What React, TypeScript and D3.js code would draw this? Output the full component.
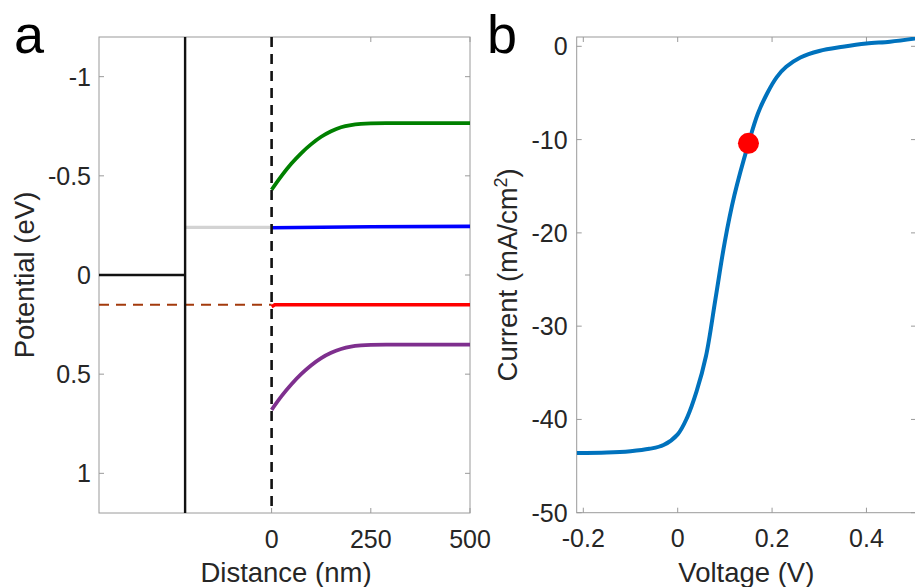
import React from "react";
import * as d3 from "d3";

// ---- Panel a data (Distance nm vs Potential eV) ----
const distanceTicks = [0, 250, 500];
const potentialTicks = [-1, -0.5, 0, 0.5, 1];
const bandDistance = [0, 25, 50, 75, 100, 125, 150, 175, 200, 225, 250, 300, 350, 400, 450, 500];
const greenBand = [-0.43, -0.5, -0.562, -0.615, -0.66, -0.697, -0.725, -0.745, -0.756, -0.762, -0.765, -0.766, -0.766, -0.766, -0.766, -0.766];
const purpleBand = [0.68, 0.611, 0.551, 0.499, 0.455, 0.419, 0.392, 0.373, 0.361, 0.355, 0.352, 0.351, 0.351, 0.351, 0.351, 0.351];
const blueDistance = [0, 250, 500];
const blueLevel = [-0.238, -0.243, -0.245];
const redDistance = [0, 8, 500];
const redLevel = [0.16, 0.15, 0.15];
const metalEdge = -218;
const leftLimit = -435;
const metalLevel = 0;
const grayLevel = -0.24;
const brownLevel = 0.15;

// ---- Panel b data (Voltage V vs Current mA/cm2) ----
const voltageTicks = [-0.2, 0, 0.2, 0.4];
const currentTicks = [0, -10, -20, -30, -40, -50];
const voltage = [-0.214, -0.15, -0.1, -0.06, -0.03, 0, 0.02, 0.04, 0.06, 0.08, 0.1, 0.12, 0.15, 0.17, 0.19, 0.21, 0.23, 0.26, 0.3, 0.35, 0.4, 0.45, 0.505];
const current = [-43.6, -43.55, -43.4, -43.15, -42.75, -41.6, -39.8, -37.0, -33.2, -27.1, -20.9, -16.0, -10.4, -7.2, -5.0, -3.3, -2.2, -1.2, -0.5, -0.05, 0.3, 0.5, 0.85];
const markerPoint = { v: 0.15, j: -10.4 };

const FONT = "'Liberation Sans', Arial, Helvetica, sans-serif";
const AX = "#9a9a9a";
const TXT = "#262626";

export default function App() {
  const W = 915, H = 587;
  // Panel a
  const a = { l: 99, r: 470, t: 37, b: 513 };
  const xa = d3.scaleLinear().domain([leftLimit, 500]).range([a.l, a.r]);
  const ya = d3.scaleLinear().domain([-1.2, 1.2]).range([a.t, a.b]);
  const la = d3.line<[number, number]>().x(d => xa(d[0])).y(d => ya(d[1])).curve(d3.curveCatmullRom.alpha(0.5));
  const laLin = d3.line<[number, number]>().x(d => xa(d[0])).y(d => ya(d[1]));

  // Panel b
  const b = { l: 576.7, r: 916, t: 37, b: 512.7 };
  const xb = d3.scaleLinear().domain([-0.214, 0.505]).range([b.l, b.r]);
  const yb = d3.scaleLinear().domain([-50, 1]).range([b.b, b.t]);
  const lb = d3.line<[number, number]>().x(d => xb(d[0])).y(d => yb(d[1])).curve(d3.curveCatmullRom.alpha(0.5));

  const zip = (xs: number[], ys: number[]) => xs.map((x, i) => [x, ys[i]] as [number, number]);
  const TL = 5;

  return (
    <div style={{ position: "absolute", left: 0, top: 0 }}>
      <svg width={W} height={H} style={{ display: "block", fontFamily: FONT }}>
        <rect x={0} y={0} width={W} height={H} fill="white" />
        <defs>
          <clipPath id="clipA"><rect x={a.l} y={a.t} width={a.r - a.l} height={a.b - a.t} /></clipPath>
          <clipPath id="clipB"><rect x={b.l} y={b.t} width={b.r - b.l} height={b.b - b.t} /></clipPath>
        </defs>
        {/* ---------- Panel a ---------- */}
        <rect x={a.l} y={a.t} width={a.r - a.l} height={a.b - a.t} fill="none" stroke={AX} strokeWidth={1} />
        {potentialTicks.map(t => (
          <g key={"ya" + t}>
            <line x1={a.l} x2={a.l + TL} y1={ya(t)} y2={ya(t)} stroke={AX} />
            <line x1={a.r} x2={a.r - TL} y1={ya(t)} y2={ya(t)} stroke={AX} />
            <text x={a.l - 8} y={ya(t)} dy="0.36em" textAnchor="end" fontSize={25} fill={TXT}>{String(t)}</text>
          </g>
        ))}
        {distanceTicks.map(t => (
          <g key={"xa" + t}>
            <line x1={xa(t)} x2={xa(t)} y1={a.b} y2={a.b - TL} stroke={AX} />
            <line x1={xa(t)} x2={xa(t)} y1={a.t} y2={a.t + TL} stroke={AX} />
            <text x={xa(t)} y={a.b + 34.5} textAnchor="middle" fontSize={25} fill={TXT}>{String(t)}</text>
          </g>
        ))}
        <g clipPath="url(#clipA)" fill="none">
          <path d={laLin([[leftLimit, metalLevel], [metalEdge, metalLevel]])!} stroke="#111" strokeWidth={2.6} />
          <path d={laLin([[metalEdge, grayLevel], [0, grayLevel]])!} stroke="#d3d3d3" strokeWidth={3.2} />
          <path d={laLin([[leftLimit, brownLevel], [0, brownLevel]])!} stroke="#a33a0c" strokeWidth={2.2} strokeDasharray="10,7" />
          <line x1={xa(metalEdge)} x2={xa(metalEdge)} y1={a.t} y2={a.b} stroke="#111" strokeWidth={2.4} />
          <path d={laLin(zip(blueDistance, blueLevel))!} stroke="#0000ff" strokeWidth={3.6} />
          <path d={laLin(zip(redDistance, redLevel))!} stroke="#ff0000" strokeWidth={3.6} />
          <path d={la(zip(bandDistance, greenBand))!} stroke="#008000" strokeWidth={3.8} />
          <path d={la(zip(bandDistance, purpleBand))!} stroke="#7e2f8e" strokeWidth={3.8} />
          <line x1={xa(0)} x2={xa(0)} y1={a.t} y2={a.b} stroke="#111" strokeWidth={2.6} strokeDasharray="10,7" />
        </g>
        <text x={xa((leftLimit + 500) / 2) + 1.5} y={582} textAnchor="middle" fontSize={27.5} fill={TXT}>Distance (nm)</text>
        <text transform={`translate(34,${(a.t + a.b) / 2}) rotate(-90)`} textAnchor="middle" fontSize={27.5} fill={TXT}>Potential (eV)</text>
        <text x={14} y={53} fontSize={54} fill="#000">a</text>

        {/* ---------- Panel b ---------- */}
        <rect x={b.l} y={b.t} width={b.r - b.l} height={b.b - b.t} fill="none" stroke={AX} strokeWidth={1} />
        {currentTicks.map(t => (
          <g key={"yb" + t}>
            <line x1={b.l} x2={b.l + TL} y1={yb(t)} y2={yb(t)} stroke={AX} />
            <line x1={b.r} x2={b.r - TL} y1={yb(t)} y2={yb(t)} stroke={AX} />
            <text x={b.l - 9} y={yb(t)} dy="0.36em" textAnchor="end" fontSize={25} fill={TXT}>{String(t)}</text>
          </g>
        ))}
        {voltageTicks.map(t => (
          <g key={"xb" + t}>
            <line x1={xb(t)} x2={xb(t)} y1={b.b} y2={b.b - TL} stroke={AX} />
            <line x1={xb(t)} x2={xb(t)} y1={b.t} y2={b.t + TL} stroke={AX} />
            <text x={xb(t)} y={b.b + 34.5} textAnchor="middle" fontSize={25} fill={TXT}>{String(t)}</text>
          </g>
        ))}
        <g clipPath="url(#clipB)" fill="none">
          <path d={lb(zip(voltage, current))!} stroke="#0072bd" strokeWidth={4} />
        </g>
        <circle cx={xb(markerPoint.v)} cy={yb(markerPoint.j)} r={10.5} fill="#ff0000" />
        <text x={(b.l + b.r) / 2} y={582} textAnchor="middle" fontSize={27.5} fill={TXT}>Voltage (V)</text>
        <text transform={`translate(517,${(b.t + b.b) / 2}) rotate(-90)`} textAnchor="middle" fontSize={27.5} fill={TXT}>
          Current (mA/cm<tspan dy="-10" fontSize={18}>2</tspan><tspan dy="10">)</tspan>
        </text>
        <text x={487} y={53} fontSize={54} fill="#000">b</text>
      </svg>
    </div>
  );
}
